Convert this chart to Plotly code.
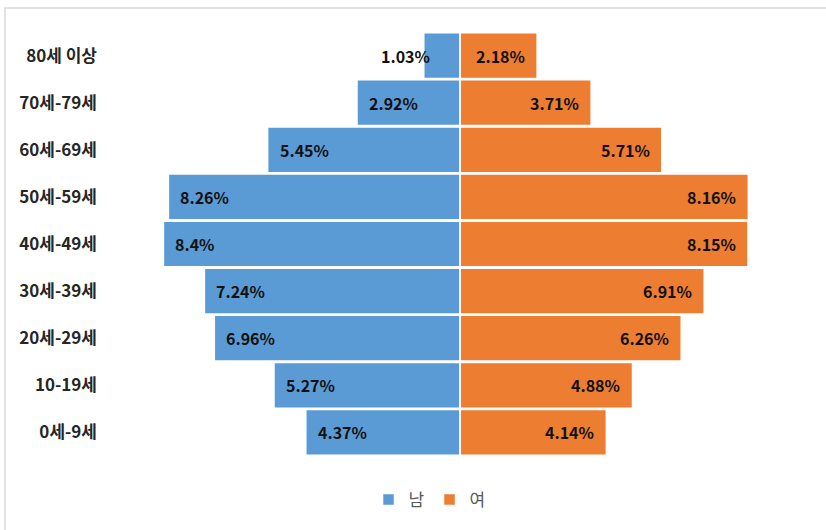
import plotly.graph_objects as go

categories = ["0세-9세", "10-19세", "20세-29세", "30세-39세", "40세-49세",
              "50세-59세", "60세-69세", "70세-79세", "80세 이상"]
male = [4.37, 5.27, 6.96, 7.24, 8.4, 8.26, 5.45, 2.92, 1.03]
female = [4.14, 4.88, 6.26, 6.91, 8.15, 8.16, 5.71, 3.71, 2.18]

BLUE = "#5B9BD5"
ORANGE = "#ED7D31"
FONT = "Noto Sans CJK KR"

W, H = 826, 530
L, R, T, B = 102, 48, 32, 74
XMIN, XMAX = -10.14, 9.0

fig = go.Figure()
fig.add_trace(go.Bar(
    y=categories, x=[-v for v in male], orientation="h", name="남",
    marker=dict(color=BLUE, line=dict(color="white", width=1.5)),
    hoverinfo="skip",
))
fig.add_trace(go.Bar(
    y=categories, x=female, orientation="h", name="여",
    marker=dict(color=ORANGE, line=dict(color="white", width=1.5)),
    hoverinfo="skip",
))

annotations = []
lab_font = dict(family=FONT, size=16, color="#111111", weight="bold")
for c, v in zip(categories, male):
    if v < 1.5:
        annotations.append(dict(x=-v, y=c, text=f"{v}%", showarrow=False,
                                xanchor="right", xshift=8, font=lab_font))
    else:
        annotations.append(dict(x=-v, y=c, text=f"{v}%", showarrow=False,
                                xanchor="left", xshift=10, font=lab_font))
for c, v in zip(categories, female):
    annotations.append(dict(x=v, y=c, text=f"{v}%", showarrow=False,
                            xanchor="right", xshift=-10, font=lab_font))

pw = W - L - R
ph = H - T - B
fig.update_layout(
    width=W, height=H,
    margin=dict(l=L, r=R, t=T, b=B),
    paper_bgcolor="white", plot_bgcolor="white",
    barmode="overlay", bargap=0.03,
    xaxis=dict(range=[XMIN, XMAX], visible=False, fixedrange=True),
    yaxis=dict(type="category", showgrid=False, zeroline=False, showline=False,
               ticks="", ticklabelstandoff=4,
               tickfont=dict(family=FONT, size=17, color="#262626", weight="bold")),
    showlegend=True,
    legend=dict(orientation="h", xref="container", yref="container",
                x=0.52, y=1 - 500 / H, xanchor="center", yanchor="middle",
                font=dict(family=FONT, size=17, color="#595959"),
                itemwidth=30, traceorder="normal"),
    annotations=annotations,
    shapes=[dict(type="rect", xref="paper", yref="paper",
                 x0=(5 - L) / pw, x1=(W + 5 - L) / pw,
                 y0=-(H + 5 - T - ph) / ph, y1=(H - 8 - B) / ph,
                 line=dict(color="#D9D9D9", width=1.5), fillcolor="rgba(0,0,0,0)",
                 layer="below")],
)

fig.write_html("out.html")
